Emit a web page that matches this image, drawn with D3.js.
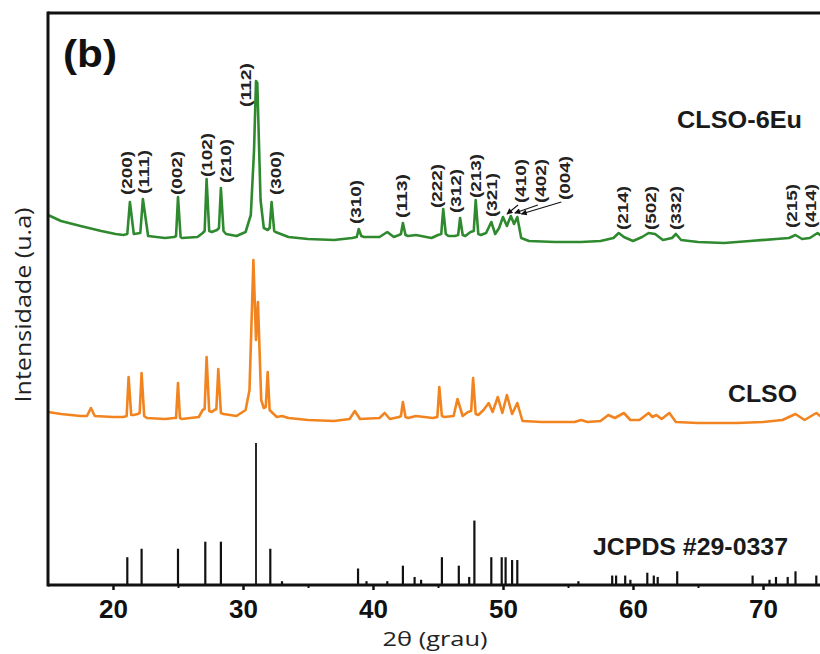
<!DOCTYPE html>
<html>
<head>
<meta charset="utf-8">
<script src="https://cdn.jsdelivr.net/npm/d3@7"></script>
<style>
  html, body { margin: 0; padding: 0; background: #fff; }
  svg { display: block; }
</style>
</head>
<body>
<svg id="chart" width="820" height="654"></svg>
<script>
// CLSO-6Eu diffractogram: [2θ (deg), intensity (a.u.)]
const clso6Eu = [
  [15.0,29],[16.0,23],[17.5,18],[19.1,13],[20.2,10],[20.8,9],[21.1,10],[21.3,42],[21.6,10],
  [22.1,11],[22.3,45],[22.7,8],[24.0,6],[24.7,7],[24.85,8],[25.0,47],[25.2,7],[25.3,6],[26.5,7],[26.9,11],
  [27.05,13],[27.2,65],[27.4,13],[27.6,12],[28.0,14],[28.15,16],[28.3,56],[28.5,13],[28.7,10],[29.5,8],[30.2,12],[30.6,29],
  [30.85,94],[31.0,163],[31.1,161],[31.2,114],[31.35,44],[31.6,16],[31.9,14],[32.05,16],[32.2,42],
  [32.4,13],[32.5,12],[33.5,7],[35.0,5],[37.0,4],[38.4,6],[38.75,7],[38.9,15],[39.1,8],[39.3,7],[40.5,7],
  [41.1,12],[41.6,7],[42.0,9],[42.15,10],[42.3,21],[42.5,9],[42.7,8],[43.3,9],[44.5,6],[45.0,9],[45.25,10],
  [45.4,35],[45.6,10],[45.8,8],[46.3,8],[46.55,9],[46.7,26],[46.9,9],[47.1,8],[47.5,12],[47.75,13],[47.9,44],[48.1,10],[48.3,9],
  [48.7,11],[49.1,22],[49.4,10],[49.7,16],[50.0,27],[50.3,18],[50.6,28],[50.85,20],
  [51.1,27],[51.4,6],[52.0,3],[54.0,2],[56.0,2],[57.5,3],[58.5,6],[58.9,11],
  [59.3,7],[60.0,3],[60.7,7],[61.2,11],[61.7,10],[62.3,4],[63.0,6],[63.3,10],
  [63.7,4],[65.0,2],[67.0,1],[69.0,3],[71.0,5],[72.0,6],[72.5,9],[73.0,5],
  [73.6,6],[74.2,11],[74.6,7],[75.0,6]
];

// CLSO diffractogram: [2θ (deg), intensity (a.u.)]
const clso = [
  [15.0,12],[16.0,10],[17.5,8],[18.0,8],[18.3,16],[18.6,8],[20.0,7],[20.8,7],[21.05,8],
  [21.2,47],[21.4,9],[21.6,9],[21.9,10],[22.05,11],[22.2,51],[22.4,8],[22.6,6],[24.0,5],[24.7,6],[24.85,6],[25.0,41],
  [25.15,6],[25.3,5],[26.6,7],[26.9,14],[27.05,15],[27.2,67],[27.4,13],[27.6,12],[27.8,14],[27.95,15],[28.1,55],[28.3,11],[28.5,10],
  [29.5,8],[30.2,14],[30.5,34],[30.8,164],[31.0,84],[31.15,122],[31.4,24],[31.6,16],[31.75,17],
  [31.9,52],[32.05,14],[32.2,12],[32.6,7],[33.0,8],[33.5,6],[35.0,4],[37.0,3],[38.2,5],
  [38.6,13],[39.0,5],[40.5,6],[40.9,11],[41.3,5],[42.0,7],[42.15,8],[42.3,22],[42.5,7],[42.7,6],
  [43.3,8],[44.6,6],[44.95,7],[45.1,37],[45.3,8],[45.5,7],[46.2,8],[46.5,25],[46.9,8],[47.3,12],[47.55,13],
  [47.7,46],[47.9,10],[48.1,9],[48.5,14],[48.9,21],[49.2,12],[49.6,27],[49.95,11],[50.3,29],
  [50.7,10],[51.1,21],[51.5,3],[53.0,2],[55.5,2],[56.0,4],[56.5,2],[57.5,3],
  [58.1,9],[58.6,6],[59.3,11],[59.8,4],[60.5,4],[61.2,11],[61.5,7],[61.8,9],
  [62.2,5],[62.8,11],[63.3,2],[65.0,1],[68.0,1],[70.0,2],[71.5,4],[72.5,10],
  [73.2,4],[74.1,11],[74.6,6],[75.0,6]
];

// JCPDS #29-0337 reference reflections: [2θ (deg), relative intensity (%)]
const jcpds = [
  [21.1,19],[22.2,25],[25.0,25],[27.1,30],[28.3,30],[31.0,100],[32.1,25],[33.0,2],
  [38.85,11],[39.5,2],[41.1,2],[42.3,13],[43.2,5],[43.7,3],[45.3,19],[46.6,13],
  [47.4,5],[47.8,45],[49.1,19],[49.9,19],[50.2,19],[50.7,17],[51.1,17],[55.8,2],
  [58.4,6],[58.7,6],[59.4,6],[59.8,3],[61.1,8],[61.6,6],[61.9,5],[63.4,9],
  [69.2,6],[70.5,3],[71.0,5],[71.9,5],[72.5,9],[74.1,6]
];

// Miller indices and the 2θ of the CLSO-6Eu reflection each one marks
const hklLabels = [
  ["(200)",21.3],["(111)",22.3],["(002)",25.0],["(102)",27.2],["(210)",28.3],
  ["(112)",31.0],["(300)",32.2],["(310)",38.9],["(113)",42.3],["(222)",45.4],
  ["(312)",46.7],["(213)",47.9],["(321)",49.1],["(410)",50.0],["(402)",50.6],
  ["(004)",51.1],["(214)",58.9],["(502)",61.2],["(332)",63.3],["(215)",72.5],
  ["(414)",74.2]
];

const xTicks = [20, 30, 40, 50, 60, 70];
const xMinorTicks = [25, 35, 45, 55, 65, 75];
const seriesNames = ["CLSO-6Eu", "CLSO", "JCPDS #29-0337"];
const xTitle = "2θ (grau)";
const yTitle = "Intensidade (u.a)";
const panelTag = "(b)";

// vertical stacking of the two patterns (a.u.)
const stackOffset = { "CLSO-6Eu": 340, "CLSO": 160 };

const svg = d3.select("#chart");
const W = 820;
const boldFont = "'Liberation Sans', Arial, sans-serif";
const textFont = "'Open Sans', 'Noto Sans', sans-serif";

const x = d3.scaleLinear().domain([15, 80]).range([48, 893]);
const y = d3.scaleLinear().domain([0, 572]).range([584, 12]);
const yRef = d3.scaleLinear().domain([0, 100]).range([584, 443]);

const plotTop = 13, plotBottom = 585, plotLeft = 48;

const defs = svg.append("defs");
defs.append("clipPath").attr("id", "plot-clip")
  .append("rect").attr("x", plotLeft).attr("y", plotTop)
  .attr("width", W - plotLeft).attr("height", plotBottom - plotTop);

defs.append("marker")
  .attr("id", "arrow-head").attr("viewBox", "0 0 10 10")
  .attr("refX", 9).attr("refY", 5)
  .attr("markerWidth", 7).attr("markerHeight", 6)
  .attr("markerUnits", "userSpaceOnUse")
  .attr("orient", "auto")
  .append("path").attr("d", "M0,0L10,5L0,10Z").attr("fill", "#111");

const plot = svg.append("g").attr("clip-path", "url(#plot-clip)");

// reference stick pattern
plot.append("g").selectAll("line").data(jcpds).join("line")
  .attr("x1", d => x(d[0])).attr("x2", d => x(d[0]))
  .attr("y1", yRef(0)).attr("y2", d => yRef(d[1]))
  .attr("stroke", "#111")
  .attr("stroke-width", d => d[1] >= 100 ? 1.8 : 2.2);

// diffractograms
const line = off => d3.line().x(d => x(d[0])).y(d => y(d[1] + off));

plot.append("path").datum(clso)
  .attr("d", line(stackOffset["CLSO"]))
  .attr("fill", "none").attr("stroke", "#f28420")
  .attr("stroke-width", 2.6).attr("stroke-linejoin", "round");

plot.append("path").datum(clso6Eu)
  .attr("d", line(stackOffset["CLSO-6Eu"]))
  .attr("fill", "none").attr("stroke", "#2f8a2f")
  .attr("stroke-width", 2.6).attr("stroke-linejoin", "round");

// Miller index labels above the CLSO-6Eu peaks
const labelShift = {
  "(200)": [-3, -2], "(111)": [1, 0], "(002)": [-1, 3], "(102)": [0, 3],
  "(210)": [5, 0], "(112)": [-10, 31], "(300)": [4, -2], "(310)": [-3, 0],
  "(113)": [-1, 0], "(222)": [-6, 4], "(312)": [-4, 0], "(213)": [0, 3],
  "(321)": [0, 0], "(410)": [18, -9], "(402)": [30, -8], "(004)": [47, -12],
  "(214)": [4, 2], "(502)": [2, 2], "(332)": [0, 1], "(215)": [-4, -2], "(414)": [-7, 0]
};
const arrowed = new Set(["(410)", "(402)", "(004)"]);
const off6 = stackOffset["CLSO-6Eu"];
const peakValue = t => d3.max(clso6Eu.filter(d => Math.abs(d[0] - t) <= 0.15), d => d[1]);

const labels = svg.append("g");
hklLabels.forEach(([hkl, t]) => {
  const [dx, dy] = labelShift[hkl] || [0, 0];
  const py = y(peakValue(t) + off6);
  const cx = x(t) + dx;
  const bottom = py - 5 + dy;
  labels.append("text")
    .attr("transform", `translate(${cx},${bottom}) rotate(-90)`)
    .attr("dy", "0.36em")
    .attr("font-family", boldFont).attr("font-weight", "bold")
    .attr("font-size", 14.5).attr("fill", "#222")
    .attr("textLength", 44).attr("lengthAdjust", "spacingAndGlyphs")
    .text(hkl);
  if (arrowed.has(hkl)) {
    labels.append("line")
      .attr("x1", cx - 3).attr("y1", bottom + 2)
      .attr("x2", x(t) + 4).attr("y2", py - 3)
      .attr("stroke", "#111").attr("stroke-width", 1.1)
      .attr("marker-end", "url(#arrow-head)");
  }
});

// frame: top border and left axis line
svg.append("line")
  .attr("x1", plotLeft).attr("x2", W).attr("y1", plotTop).attr("y2", plotTop)
  .attr("stroke", "#111").attr("stroke-width", 3);
svg.append("line")
  .attr("x1", plotLeft).attr("x2", plotLeft).attr("y1", plotTop - 1.5).attr("y2", plotBottom + 1.5)
  .attr("stroke", "#111").attr("stroke-width", 3);

// bottom axis with major and minor ticks
const xAxis = svg.append("g").attr("transform", `translate(0,${plotBottom})`)
  .call(d3.axisBottom(x).tickValues(xTicks).tickSize(5).tickSizeOuter(0).tickFormat(d3.format("d")));
xAxis.select(".domain").attr("stroke", "#111").attr("stroke-width", 3)
  .attr("d", `M${plotLeft},0H${W}`);
xAxis.selectAll(".tick line").attr("stroke", "#111").attr("stroke-width", 2.5);
xAxis.selectAll(".tick text")
  .attr("y", 33).attr("dy", null)
  .attr("font-family", boldFont).attr("font-weight", "bold")
  .attr("font-size", 26).attr("fill", "#111");

const xMinor = svg.append("g").attr("transform", `translate(0,${plotBottom})`)
  .call(d3.axisBottom(x).tickValues(xMinorTicks).tickSize(3).tickSizeOuter(0).tickFormat(""));
xMinor.select(".domain").remove();
xMinor.selectAll(".tick line").attr("stroke", "#111").attr("stroke-width", 2);

// axis titles
svg.append("text")
  .attr("x", 435).attr("y", 646).attr("text-anchor", "middle")
  .attr("font-family", textFont).attr("font-size", 20).attr("fill", "#222")
  .attr("textLength", 105).attr("lengthAdjust", "spacingAndGlyphs")
  .text(xTitle);
svg.append("text")
  .attr("transform", "translate(31,305) rotate(-90)").attr("text-anchor", "middle")
  .attr("font-family", textFont).attr("font-size", 21).attr("fill", "#222")
  .attr("textLength", 195).attr("lengthAdjust", "spacingAndGlyphs")
  .text(yTitle);

// panel tag and series names
svg.append("text")
  .attr("x", 63).attr("y", 67)
  .attr("font-family", boldFont).attr("font-weight", "bold")
  .attr("font-size", 38).attr("fill", "#111")
  .attr("textLength", 54).attr("lengthAdjust", "spacingAndGlyphs")
  .text(panelTag);

const nameSpots = [[677, 128, 125], [728, 402, 69], [593, 555, 195]];
seriesNames.forEach((name, i) => {
  const [nx, ny, len] = nameSpots[i];
  svg.append("text")
    .attr("x", nx).attr("y", ny)
    .attr("font-family", boldFont).attr("font-weight", "bold")
    .attr("font-size", 23).attr("fill", "#1a1a1a")
    .attr("textLength", len).attr("lengthAdjust", "spacingAndGlyphs")
    .text(name);
});
</script>
</body>
</html>
